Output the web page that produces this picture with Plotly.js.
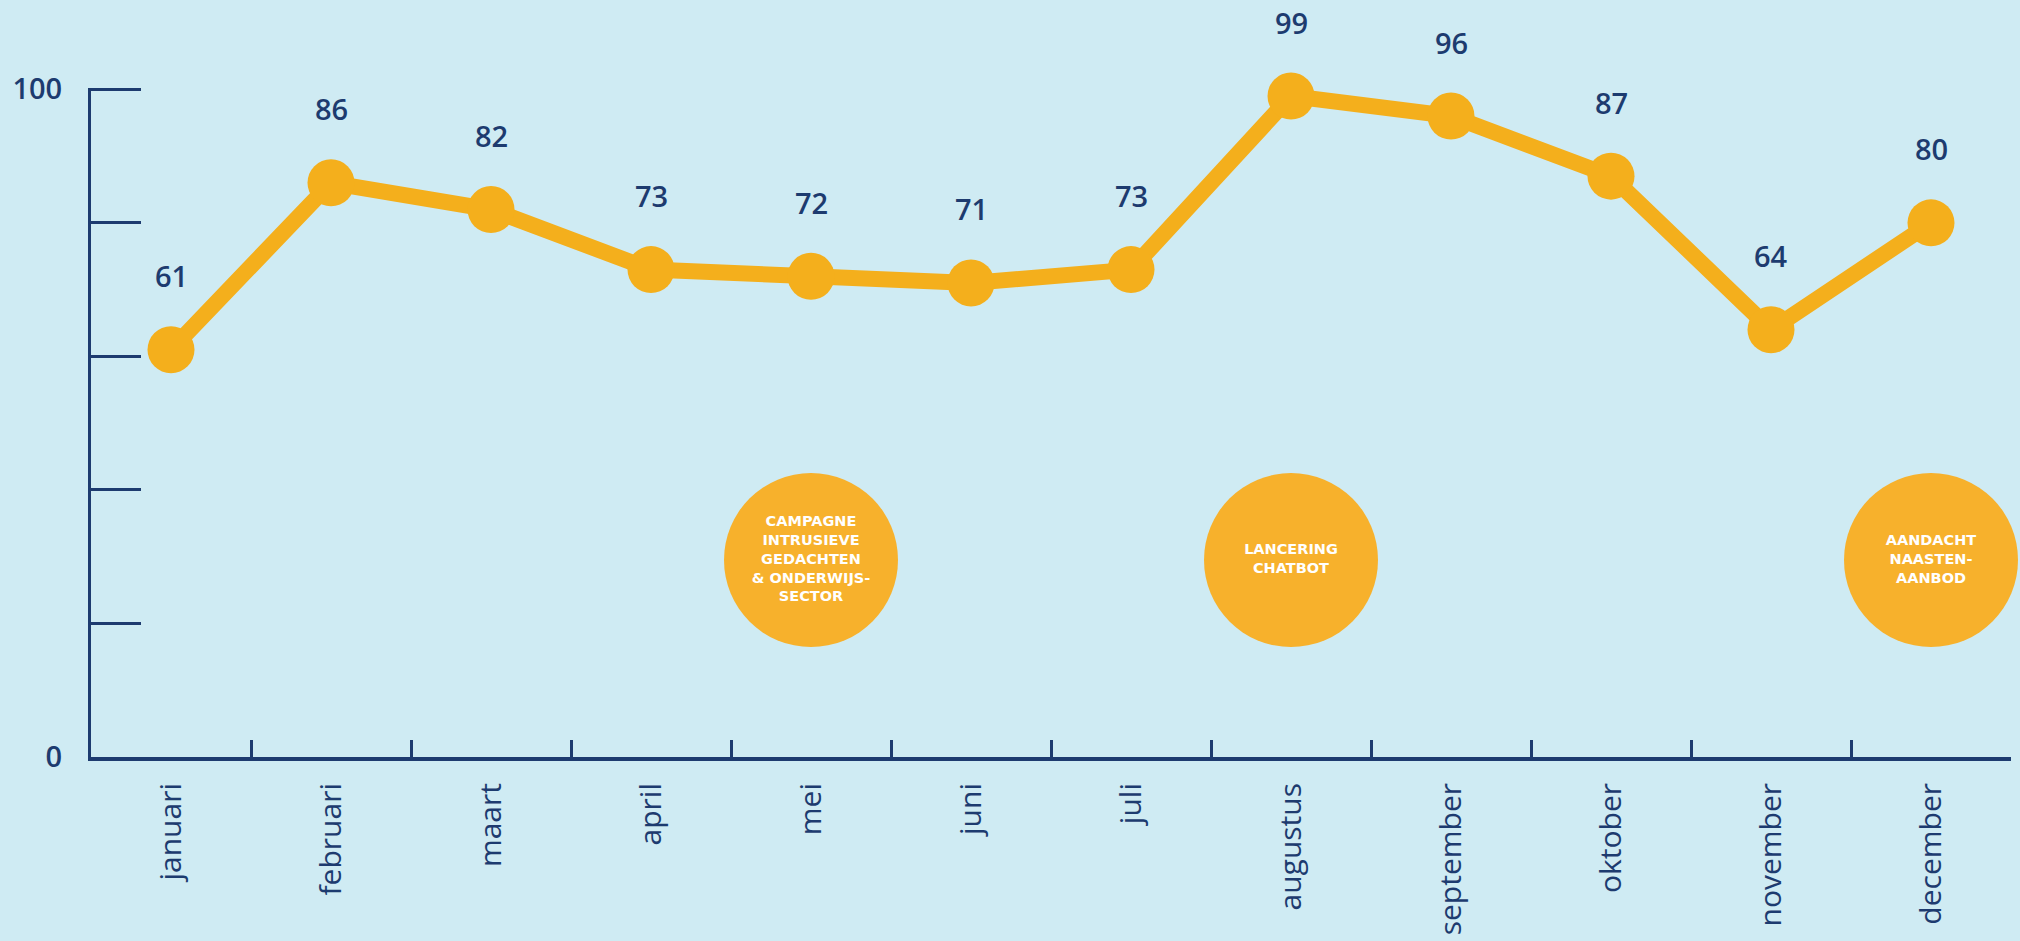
<!DOCTYPE html>
<html>
<head>
<meta charset="utf-8">
<script src="https://cdn.plot.ly/plotly-3.0.1.min.js"></script>
<style>
  html, body { margin: 0; padding: 0; background: #CFEBF3; }
  #chart { width: 2020px; height: 941px; }
</style>
</head>
<body>
<div id="chart"></div>
<script>
const months = ['januari', 'februari', 'maart', 'april', 'mei', 'juni', 'juli',
                'augustus', 'september', 'oktober', 'november', 'december'];
const values = [61, 86, 82, 73, 72, 71, 73, 99, 96, 87, 64, 80];

const eventMonths = ['mei', 'augustus', 'december'];
const eventLabels = [
  'CAMPAGNE<br>INTRUSIEVE<br>GEDACHTEN<br>& ONDERWIJS-<br>SECTOR',
  'LANCERING<br>CHATBOT',
  'AANDACHT<br>NAASTEN-<br>AANBOD'
];

const yTickValues = [0, 20, 40, 60, 80, 100];
const yTickLabels = ['0', '', '', '', '', '100'];

const NAVY = '#1D3B6F';
const ORANGE = '#F4AF1C';
const CIRCLE = '#F7B12C';
const BG = '#CFEBF3';

const eventLevel = 29.5;

const traces = [
  {
    type: 'scatter',
    mode: 'markers+text',
    x: eventMonths,
    y: eventMonths.map(() => eventLevel),
    text: eventLabels,
    textposition: 'middle center',
    textfont: { family: 'DejaVu Sans', size: 14.5, color: '#FFFFFF', weight: 'bold' },
    marker: { size: 174, color: CIRCLE, line: { width: 0 } },
    cliponaxis: false,
    hoverinfo: 'skip',
    showlegend: false
  },
  {
    type: 'scatter',
    mode: 'lines+markers',
    x: months,
    y: values,
    line: { color: ORANGE, width: 16 },
    marker: { size: 47, color: ORANGE },
    cliponaxis: false,
    hoverinfo: 'skip',
    showlegend: false
  }
];

const annotations = months.map((m, i) => ({
  x: m,
  y: values[i],
  text: String(values[i]),
  showarrow: false,
  yshift: 74,
  font: { family: 'Open Sans', size: 29, color: NAVY, weight: 600 }
}));

const layout = {
  width: 2020,
  height: 941,
  paper_bgcolor: BG,
  plot_bgcolor: BG,
  margin: { l: 91, r: 9, t: 88, b: 184 },
  showlegend: false,
  xaxis: {
    type: 'category',
    categoryarray: months,
    range: [-0.5, 11.5],
    showgrid: false,
    zeroline: false,
    showline: true,
    linecolor: NAVY,
    linewidth: 4,
    ticks: 'inside',
    tickson: 'boundaries',
    ticklen: 17,
    tickwidth: 3,
    tickcolor: NAVY,
    tickangle: -90,
    ticklabelstandoff: 10,
    tickfont: { family: 'Open Sans', size: 30, color: NAVY },
    fixedrange: true
  },
  yaxis: {
    range: [0, 100.2],
    showgrid: false,
    zeroline: false,
    showline: true,
    linecolor: NAVY,
    linewidth: 3,
    ticks: 'inside',
    ticklen: 50,
    tickwidth: 3,
    tickcolor: NAVY,
    tickmode: 'array',
    tickvals: yTickValues,
    ticktext: yTickLabels,
    ticklabelstandoff: 20,
    tickfont: { family: 'Open Sans', size: 29, color: NAVY, weight: 600 },
    fixedrange: true
  },
  annotations: annotations
};

Plotly.newPlot('chart', traces, layout, { displayModeBar: false, staticPlot: true });
</script>
</body>
</html>
